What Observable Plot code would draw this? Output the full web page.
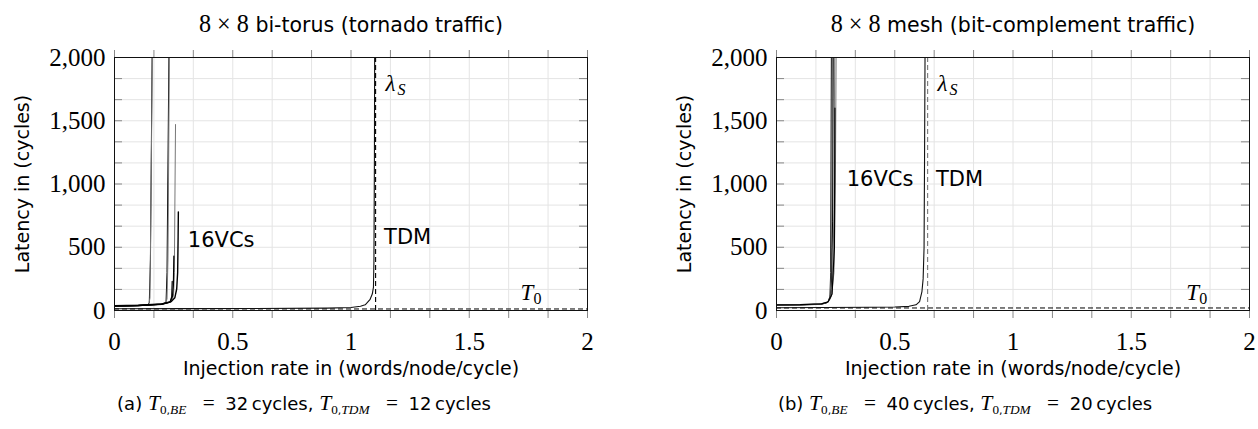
<!DOCTYPE html>
<html><head><meta charset="utf-8">
<script src="https://cdn.jsdelivr.net/npm/d3@7"></script>
<script src="https://cdn.jsdelivr.net/npm/@observablehq/plot@0.6"></script>
<style>
body{margin:0;background:#fff;}
#fig{position:relative;width:1258px;height:429px;overflow:hidden;font-family:"DejaVu Sans",sans-serif;color:#000;}
.title,.cap{position:absolute;white-space:nowrap;transform:translate(-50%,-50%);}
.title{font-size:20.5px;top:24px;}
.cap{font-size:18px;top:404px;}
.m{font-family:"Liberation Serif",serif;font-size:118%;}
.mi{font-family:"Liberation Serif",serif;font-style:italic;font-size:120%;}
sub{font-size:62%;vertical-align:-0.35em;}
.panel{position:absolute;top:40px;}
</style></head>
<body><div id="fig">
<div class="title" style="left:351px"><span class="m">8 × 8</span> bi-torus (tornado traffic)</div>
<div class="title" style="left:1013px"><span class="m">8 × 8</span> mesh (bit-complement traffic)</div>
<div class="cap" style="left:304px">(a) <span class="mi">T</span><sub><span class="m">0</span>,<span class="mi">BE</span></sub> <span class="m">&#8194;=&#8194;</span>32&#8201;cycles, <span class="mi">T</span><sub><span class="m">0</span>,<span class="mi">TDM</span></sub> <span class="m">&#8194;=&#8194;</span>12&#8201;cycles</div>
<div class="cap" style="left:965px">(b) <span class="mi">T</span><sub><span class="m">0</span>,<span class="mi">BE</span></sub> <span class="m">&#8194;=&#8194;</span>40&#8201;cycles, <span class="mi">T</span><sub><span class="m">0</span>,<span class="mi">TDM</span></sub> <span class="m">&#8194;=&#8194;</span>20&#8201;cycles</div>
<div id="left" class="panel" style="left:0px"></div>
<div id="right" class="panel" style="left:629px"></div>
</div>
<script>
// ---- axis ticks ----
const xMajor = [0, 0.5, 1, 1.5, 2];
const xMinor = [0, 0.1667, 0.3333, 0.5, 0.6667, 0.8333, 1, 1.1667, 1.3333, 1.5, 1.6667, 1.8333, 2];
const yMajor = [0, 500, 1000, 1500, 2000];
const yMinor = [0, 166.7, 333.3, 500, 666.7, 833.3, 1000, 1166.7, 1333.3, 1500, 1666.7, 1833.3, 2000];

// ---- (a) 8x8 bi-torus, tornado traffic: best-effort (VC) curves [rate, latency] ----
const torusBE1 = [[0,35],[0.05,36],[0.1,38],[0.13,41],[0.142,48],[0.147,62],[0.152,400],[0.159,2000]];
const torusBE2 = [[0,37],[0.05,38],[0.1,40],[0.14,44],[0.146,55],[0.15,100],[0.16,2000]];
const torusBE3 = [[0,36],[0.05,37],[0.1,39],[0.15,43],[0.19,48],[0.21,55],[0.218,70],[0.222,300],[0.23,2000]];
const torusBE4 = [[0,38],[0.1,41],[0.15,44],[0.2,52],[0.215,62],[0.222,90],[0.226,400],[0.232,2000]];
const torusBE5 = [[0,37],[0.1,40],[0.2,50],[0.23,62],[0.245,85],[0.25,130],[0.253,300],[0.258,1470]];
const torusBE6 = [[0,38],[0.1,41],[0.2,52],[0.24,70],[0.255,100],[0.263,170],[0.267,300],[0.269,580],[0.27,780]];
const torusBE7 = [[0,36],[0.1,39],[0.2,50],[0.235,68],[0.245,110],[0.249,200],[0.251,430]];
const torusBE8 = [[0,35],[0.1,38],[0.2,48],[0.235,65],[0.242,110],[0.244,230]];
const torusTDM = [[0,14],[0.3,15],[0.6,16],[0.9,19],[1.0,24],[1.04,33],[1.06,45],[1.08,85],[1.09,130],[1.095,185],[1.097,400],[1.099,1200],[1.1,2000]];
const torusLambda = [1.104];
const torusT0 = [12];
const torusLabelText = ["16VCs", "TDM"];
const torusLabelX = [0.31, 1.14];
const torusLabelY = [555, 580];
const torusLambdaPos = [1.146, 1795];
const torusT0Pos = [1.717, 140];

// ---- (b) 8x8 mesh, bit-complement traffic ----
const meshBE1 = [[0,43],[0.1,45],[0.18,49],[0.205,56],[0.218,70],[0.226,110],[0.229,300],[0.232,2000]];
const meshBE2 = [[0,44],[0.1,46],[0.18,50],[0.21,60],[0.222,80],[0.23,150],[0.233,500],[0.236,2000]];
const meshBE3 = [[0,42],[0.1,44],[0.18,48],[0.21,58],[0.225,85],[0.233,180],[0.237,700],[0.24,2000]];
const meshBE4 = [[0,45],[0.1,47],[0.18,51],[0.212,62],[0.228,95],[0.238,250],[0.243,800],[0.246,2000]];
const meshBE5 = [[0,43],[0.1,45],[0.19,51],[0.215,65],[0.232,110],[0.243,300],[0.249,1000],[0.252,2000]];
const meshBE6 = [[0,44],[0.1,46],[0.19,52],[0.218,68],[0.235,130],[0.245,500],[0.247,1600]];
const meshTDM = [[0,22],[0.2,24],[0.4,26],[0.5,28],[0.56,33],[0.59,45],[0.605,70],[0.615,150],[0.62,250],[0.624,500],[0.626,1200],[0.628,2000]];
const meshLambda = [0.639];
const meshT0 = [20];
const meshLabelText = ["16VCs", "TDM"];
const meshLabelX = [0.297, 0.674];
const meshLabelY = [1041, 1041];
const meshLambdaPos = [0.681, 1795];
const meshT0Pos = [1.733, 140];

const SANS = "'DejaVu Sans', sans-serif";
const SERIF = "'Liberation Serif', serif";
const BLACK = "#000", GRAY = "#777";

function panel({width, marginLeft, marginRight, curves, tdm, lambda, lambdaColor, t0, labText, labX, labY, lamPos, t0Pos}) {
  const marginTop = 17, marginBottom = 75, height = 345;
  const plotW = width - marginLeft - marginRight;
  const TL = 8;
  const lab = labText.map((t, i) => ({t, x: labX[i], y: labY[i]}));
  const marks = [
    Plot.gridX(xMinor, {stroke: "#e4e4e4", strokeOpacity: 1}),
    Plot.gridY(yMinor, {stroke: "#e4e4e4", strokeOpacity: 1}),
    // x ticks (outward, bottom & top)
    Plot.axisX(xMinor, {anchor: "bottom", tickSize: TL, tickFormat: () => "", stroke: "#888", label: null}),
    Plot.axisX(xMinor, {anchor: "top", tickSize: TL, tickFormat: () => "", stroke: "#888", label: null}),
    Plot.axisX(xMajor, {anchor: "bottom", tickSize: 0, tickPadding: 22, tickFormat: d => String(d), fontSize: 25, fontFamily: SERIF, label: null}),
    // y ticks (inward, left & right)
    Plot.tickY(yMinor, {y: d => d, stroke: "#888", insetRight: plotW - TL}),
    Plot.tickY(yMinor, {y: d => d, stroke: "#888", insetLeft: plotW - TL}),
    Plot.axisY(yMajor, {anchor: "left", tickSize: 0, tickPadding: 9, tickFormat: d3.format(","), fontSize: 25, fontFamily: SERIF, label: null}),
    Plot.text(["Injection rate in (words/node/cycle)"], {text: d => d, frameAnchor: "bottom", textAnchor: "middle", dy: 58, lineAnchor: "middle", fontSize: 19, fontFamily: SANS}),
    Plot.text(["Latency in (cycles)"], {text: d => d, frameAnchor: "left", textAnchor: "middle", dx: -92, rotate: -90, lineAnchor: "middle", fontSize: 19, fontFamily: SANS}),
    // T0 and lambda_S reference lines
    Plot.ruleY(t0, {y: d => d, stroke: BLACK, strokeDasharray: "5,3", strokeWidth: 1}),
    Plot.ruleX(lambda, {x: d => d, stroke: lambdaColor, strokeDasharray: "5,3", strokeWidth: 1.1}),
    // curves
    ...curves.map(([data, color, w]) => Plot.line(data, {x: d => d[0], y: d => d[1], stroke: color, strokeWidth: w, clip: true})),
    Plot.line(tdm, {x: d => d[0], y: d => d[1], stroke: "#111", strokeWidth: 1.1, clip: true}),
    Plot.frame({stroke: "#111", strokeWidth: 1}),
    // annotations
    Plot.text(lab, {x: "x", y: "y", text: "t", textAnchor: "start", fontSize: 21, fontFamily: SANS}),
    Plot.text([lamPos], {x: d => d[0], y: d => d[1], text: () => "λ", textAnchor: "start", fontSize: 23, fontFamily: SERIF, fontStyle: "italic"}),
    Plot.text([lamPos], {x: d => d[0], y: d => d[1], text: () => "S", textAnchor: "start", dx: 12, dy: 6, fontSize: 16, fontFamily: SERIF, fontStyle: "italic"}),
    Plot.text([t0Pos], {x: d => d[0], y: d => d[1], text: () => "T", textAnchor: "start", fontSize: 23, fontFamily: SERIF, fontStyle: "italic"}),
    Plot.text([t0Pos], {x: d => d[0], y: d => d[1], text: () => "0", textAnchor: "start", dx: 13, dy: 6, fontSize: 16, fontFamily: SERIF})
  ];
  return Plot.plot({
    width, height, marginTop, marginBottom, marginLeft, marginRight,
    x: {domain: [0, 2], axis: null},
    y: {domain: [0, 2000], axis: null},
    style: {background: "transparent", overflow: "hidden"},
    marks
  });
}

document.getElementById("left").append(panel({
  width: 629, marginLeft: 114, marginRight: 42,
  curves: [[torusBE1, BLACK, 1], [torusBE2, GRAY, 1], [torusBE3, BLACK, 1], [torusBE4, GRAY, 1],
           [torusBE5, GRAY, 1], [torusBE6, BLACK, 1.4], [torusBE7, BLACK, 1.2], [torusBE8, BLACK, 1.2]],
  tdm: torusTDM, lambda: torusLambda, lambdaColor: BLACK, t0: torusT0,
  labText: torusLabelText, labX: torusLabelX, labY: torusLabelY, lamPos: torusLambdaPos, t0Pos: torusT0Pos
}));
document.getElementById("right").append(panel({
  width: 629, marginLeft: 147, marginRight: 9,
  curves: [[meshBE1, BLACK, 1], [meshBE2, GRAY, 1], [meshBE3, BLACK, 1], [meshBE4, GRAY, 1],
           [meshBE5, GRAY, 1], [meshBE6, BLACK, 1.2]],
  tdm: meshTDM, lambda: meshLambda, lambdaColor: GRAY, t0: meshT0,
  labText: meshLabelText, labX: meshLabelX, labY: meshLabelY, lamPos: meshLambdaPos, t0Pos: meshT0Pos
}));
</script>
</body></html>
